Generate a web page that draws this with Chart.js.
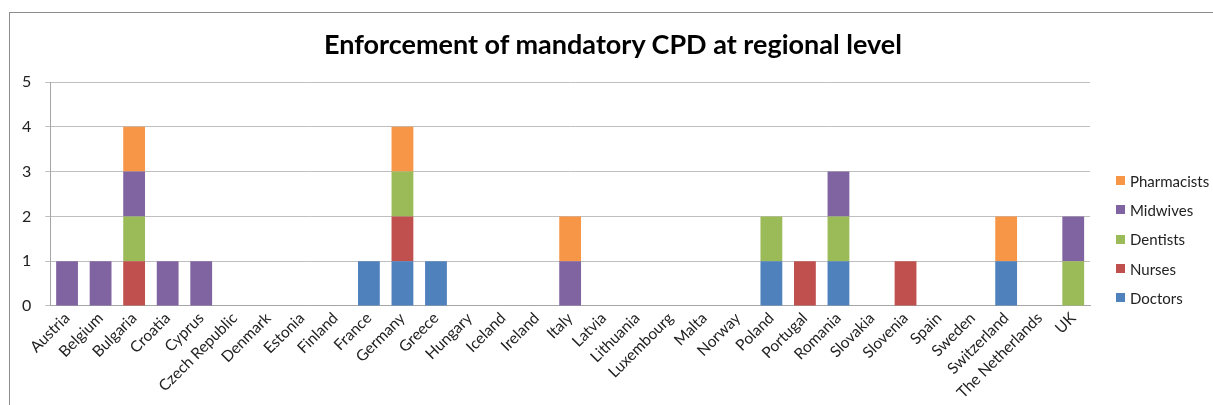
<!DOCTYPE html>
<html>
<head>
<meta charset="utf-8">
<script src="https://cdn.jsdelivr.net/npm/chart.js@4.4.1/dist/chart.umd.min.js"></script>
<style>
  html, body { margin: 0; padding: 0; background: #fff; }
  #wrap { position: relative; width: 1213px; height: 405px; overflow: hidden; }
  #frame { position: absolute; left: 9px; top: 12px; width: 1300px; height: 500px; border: 1px solid #8c8c8c; }
  canvas { position: absolute; left: 0; top: 0; }
  #title { position: absolute; left: 0; width: 1226px; top: 27px; text-align: center;
           font-family: Lato, sans-serif; font-weight: bold; font-size: 27px; color: #000; }
  #legend { position: absolute; left: 1116px; top: 166px; font-family: Lato, sans-serif; font-size: 15px; color: #222; }
  #legend div { height: 29.3px; display: flex; align-items: center; }
  #legend span.box { display: inline-block; width: 9px; height: 9px; margin-right: 5px; }
</style>
</head>
<body>
<div id="wrap">
  <div id="frame"></div>
  <canvas id="chart" width="1213" height="405"></canvas>
  <div id="title">Enforcement of mandatory CPD at regional level</div>
  <div id="legend"></div>
</div>
<script>
const countries = ['Austria', 'Belgium', 'Bulgaria', 'Croatia', 'Cyprus', 'Czech Republic', 'Denmark',
  'Estonia', 'Finland', 'France', 'Germany', 'Greece', 'Hungary', 'Iceland', 'Ireland', 'Italy',
  'Latvia', 'Lithuania', 'Luxembourg', 'Malta', 'Norway', 'Poland', 'Portugal', 'Romania',
  'Slovakia', 'Slovenia', 'Spain', 'Sweden', 'Switzerland', 'The Netherlands', 'UK'];

//                 Au Be Bu Cr Cy CZ De Es Fi Fr Ge Gr Hu Ic Ir It La Li Lu Ma No Po Pt Ro Sk Sl Sp Sw Ch NL UK
const doctors     = [0, 0, 0, 0, 0, 0, 0, 0, 0, 1, 1, 1, 0, 0, 0, 0, 0, 0, 0, 0, 0, 1, 0, 1, 0, 0, 0, 0, 1, 0, 0];
const nurses      = [0, 0, 1, 0, 0, 0, 0, 0, 0, 0, 1, 0, 0, 0, 0, 0, 0, 0, 0, 0, 0, 0, 1, 0, 0, 1, 0, 0, 0, 0, 0];
const dentists    = [0, 0, 1, 0, 0, 0, 0, 0, 0, 0, 1, 0, 0, 0, 0, 0, 0, 0, 0, 0, 0, 1, 0, 1, 0, 0, 0, 0, 0, 0, 1];
const midwives    = [1, 1, 1, 1, 1, 0, 0, 0, 0, 0, 0, 0, 0, 0, 0, 1, 0, 0, 0, 0, 0, 0, 0, 1, 0, 0, 0, 0, 0, 0, 1];
const pharmacists = [0, 0, 1, 0, 0, 0, 0, 0, 0, 0, 1, 0, 0, 0, 0, 1, 0, 0, 0, 0, 0, 0, 0, 0, 0, 0, 0, 0, 1, 0, 0];

const yTicks = [0, 1, 2, 3, 4, 5];

const series = [
  { label: 'Doctors', data: doctors, color: '#4f81bd' },
  { label: 'Nurses', data: nurses, color: '#c0504d' },
  { label: 'Dentists', data: dentists, color: '#9bbb59' },
  { label: 'Midwives', data: midwives, color: '#8064a2' },
  { label: 'Pharmacists', data: pharmacists, color: '#f79646' },
];

// legend, top to bottom like the original (reversed)
const legendEl = document.getElementById('legend');
series.slice().reverse().forEach(s => {
  const row = document.createElement('div');
  row.innerHTML = '<span class="box" style="background:' + s.color + '"></span>' + s.label;
  legendEl.appendChild(row);
});

new Chart(document.getElementById('chart'), {
  type: 'bar',
  data: {
    labels: countries,
    datasets: series.map(s => ({
      label: s.label,
      data: s.data,
      backgroundColor: s.color,
      borderWidth: 0,
      categoryPercentage: 1,
      barPercentage: 0.65,
    })),
  },
  options: {
    responsive: false,
    animation: false,
    layout: { padding: { left: 8, right: 123, top: 82, bottom: 0 } },
    plugins: {
      legend: { display: false },
      tooltip: { enabled: false },
    },
    scales: {
      x: {
        stacked: true,
        grid: { display: false, drawTicks: false },
        border: { color: '#a6a6a6' },
        ticks: {
          color: '#222',
          font: { family: 'Lato', size: 15.5 },
          maxRotation: 45,
          minRotation: 45,
          autoSkip: false,
          padding: 3,
        },
      },
      y: {
        stacked: true,
        min: 0,
        max: 5,
        afterBuildTicks: axis => { axis.ticks = yTicks.map(v => ({ value: v })); },
        grid: { color: '#bfbfbf', tickLength: 5 },
        border: { color: '#a6a6a6' },
        ticks: {
          color: '#222',
          font: { family: 'Lato', size: 16 },
          padding: 14,
        },
      },
    },
  },
});
</script>
</body>
</html>
